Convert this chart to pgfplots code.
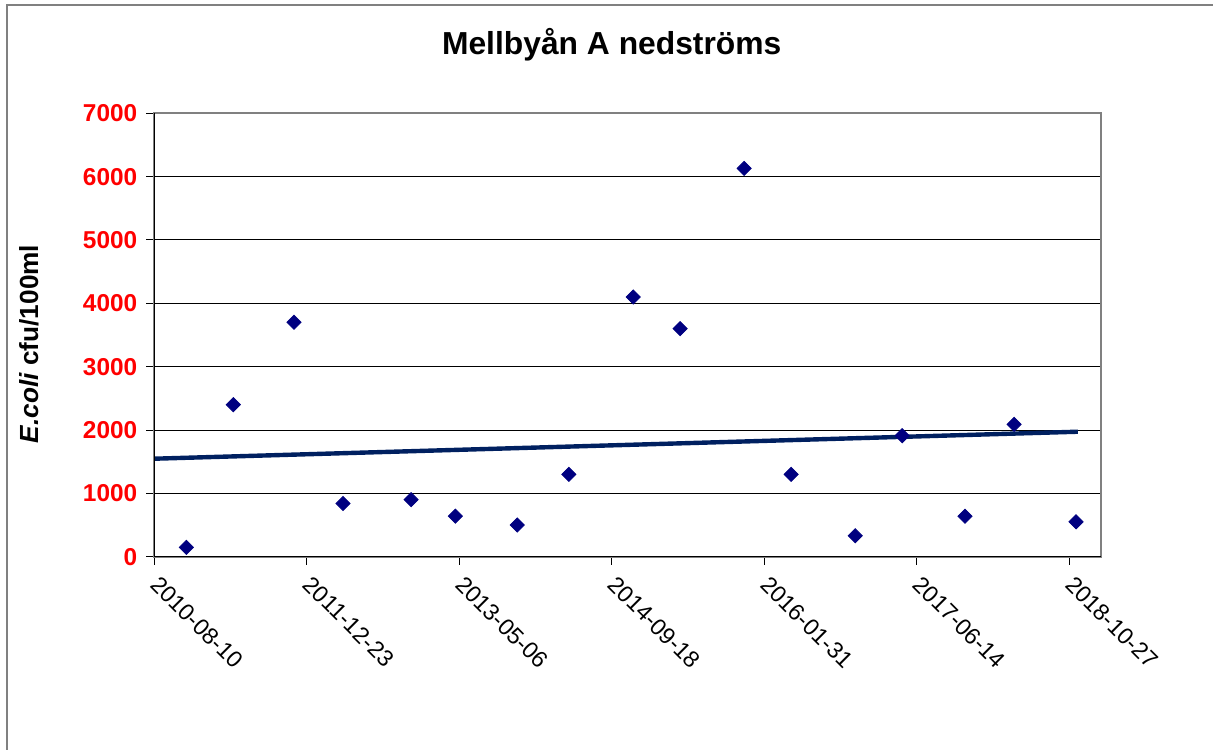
\documentclass[border=0pt]{standalone}
\usepackage{pgfplots}
\pgfplotsset{compat=1.18}
\usepackage{fontspec}
\setmainfont{Liberation Sans}
\definecolor{markblue}{RGB}{0,0,128}
\definecolor{trendblue}{RGB}{0,32,96}
\definecolor{framegray}{RGB}{128,128,128}
\begin{document}
\begin{tikzpicture}
\useasboundingbox (0,0) rectangle (606.5pt,374.5pt);
% outer chart frame (cut off at right and bottom, as in the reference)
\draw[framegray, line width=1pt] (3.5pt,-5pt) -- (3.5pt,372pt) -- (615pt,372pt);
\begin{axis}[
  name=ax,
  at={(77.15pt,96.15pt)}, anchor=south west,
  scale only axis,
  width=473.35pt, height=221.7pt,
  xmin=0, xmax=3104, ymin=0, ymax=7000,
  xtick={0,500,1000,1500,2000,2500,3000},
  xticklabels={2010-08-10,2011-12-23,2013-05-06,2014-09-18,2016-01-31,2017-06-14,2018-10-27},
  ytick={0,1000,...,7000},
  /pgf/number format/assume math mode=true,
  /pgf/number format/set thousands separator={},
  xtick pos=left, ytick pos=left,
  tick align=outside,
  major tick length=4pt,
  tick style={black, line width=0.5pt},
  ymajorgrids,
  grid style={black, line width=0.5pt},
  axis line style={framegray, line width=1pt},
  yticklabel style={font=\fontsize{12.2}{14}\selectfont\bfseries, text=red, xshift=-1pt},
  xticklabel style={font=\fontsize{11.6}{13}\selectfont, rotate=-45, anchor=north west, xshift=2.3pt, yshift=2.3pt},
  clip=false,
]
\addplot[trendblue, line width=2.2pt] coordinates {(0,1547) (3028,1973)};
\addplot[only marks, mark=square*, mark size=2.5pt, mark options={rotate=45, fill=markblue, draw=markblue}]
  coordinates {
  (105,148) (259,2400) (458,3700) (619,840) (842,900) (987,640)
  (1190,500) (1359,1300) (1570,4100) (1724,3600) (1934,6130)
  (2088,1300) (2298,330) (2452,1910) (2658,640) (2819,2090) (3022,550)
  };
\end{axis}
\draw[black, line width=0.8pt] (ax.north west) -- (ax.south west) -- (ax.south east);
\node[font=\fontsize{15.9}{18}\selectfont\bfseries] at (305.85pt,352pt) {Mellbyån A nedströms};
\node[rotate=90, font=\fontsize{13.1}{15}\selectfont\bfseries] at (14.5pt,202.5pt) {\textit{E.coli} cfu/100ml};
\end{tikzpicture}
\end{document}
